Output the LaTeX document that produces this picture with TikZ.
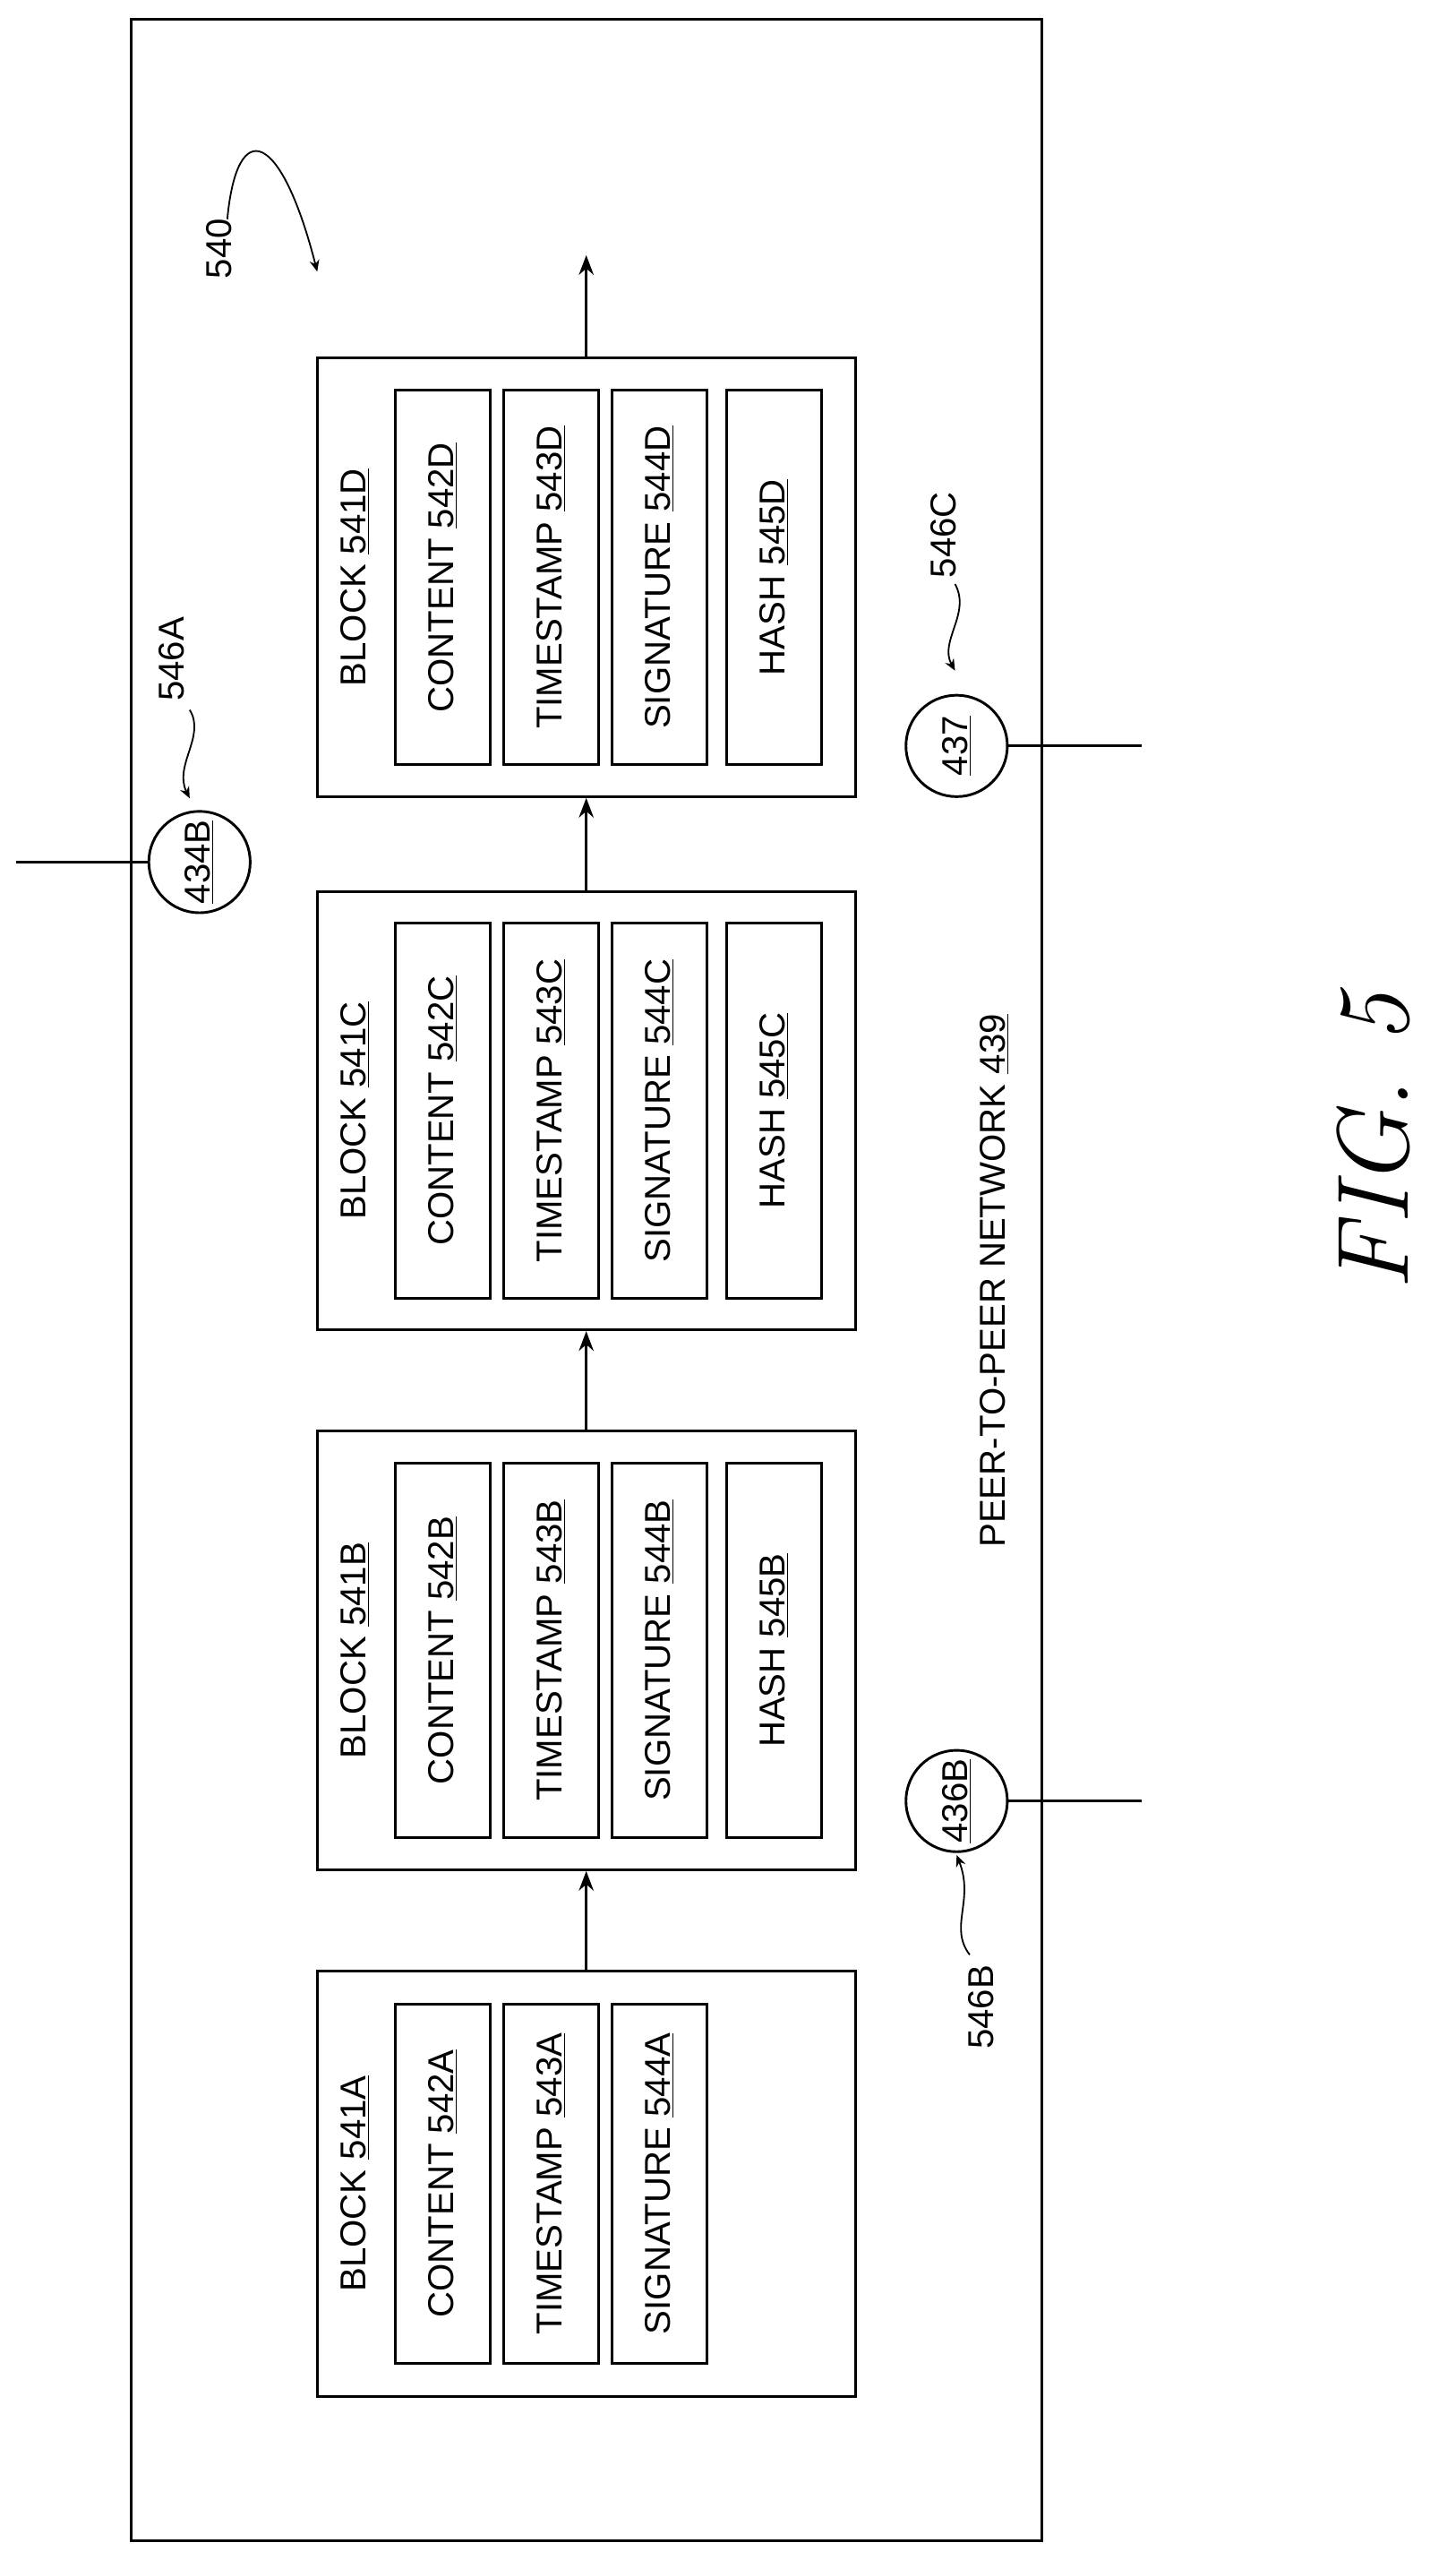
\documentclass[tikz,border=0pt]{standalone}
\usepackage{fontspec}
\setmainfont{Liberation Sans}
\newfontfamily\figfont{Latin Modern Roman}
\usetikzlibrary{arrows.meta}
\begin{document}
\begin{tikzpicture}[x=1pt,y=-1pt,
  lw/.style={line width=1.6pt},
  blk/.style={draw,lw,minimum width=329pt,minimum height=268pt,inner sep=0},
  inr/.style={draw,lw,rotate=90,minimum width=229pt,minimum height=58pt,inner sep=0,font=\fontsize{22}{24}\selectfont},
  lbl/.style={rotate=90,inner sep=0,font=\fontsize{22}{24}\selectfont},
  circ/.style={draw,lw,circle,minimum size=62pt,inner sep=0,font=\fontsize{22}{24}\selectfont},
  arr/.style={lw,-{Stealth[length=12pt,width=9pt]}},
  sq/.style={line width=1pt,-{Stealth[length=7pt,width=6pt]}}]
\useasboundingbox (0,0) rectangle (890,1565);
\node[draw,lw,minimum width=557pt,minimum height=1541pt,inner sep=0] (outer) at (358.5,782.5) {};
% blocks
\foreach \n/\yc in {D/353,C/679,B/1009} {
  \node[blk] (block\n) at (358.5,\yc) {};
  \node[lbl] (bl\n) at (217,\yc) {BLOCK \underline{541\n}};
  \node[inr] (con\n) at (271,\yc) {CONTENT \underline{542\n}};
  \node[inr] (tim\n) at (337,\yc) {TIMESTAMP \underline{543\n}};
  \node[inr] (sig\n) at (403.5,\yc) {SIGNATURE \underline{544\n}};
  \node[inr] (has\n) at (473.5,\yc) {HASH \underline{545\n}};
}
\node[blk,minimum height=260pt] (blockA) at (358.5,1335) {};
\node[lbl] (blA) at (217,1335) {BLOCK \underline{541A}};
\node[inr,minimum width=220pt] (conA) at (271,1335) {CONTENT \underline{542A}};
\node[inr,minimum width=220pt] (timA) at (337,1335) {TIMESTAMP \underline{543A}};
\node[inr,minimum width=220pt] (sigA) at (403.5,1335) {SIGNATURE \underline{544A}};
% arrows
\draw[arr] (blockA.north) -- (blockB.south);
\draw[arr] (blockB.north) -- (blockC.south);
\draw[arr] (blockC.north) -- (blockD.south);
\coordinate (out) at (358.5,156);
\draw[arr] (blockD.north) -- (out);
% peers
\node[circ] (p434) at (122,527) {\rotatebox{90}{\underline{434B}}};
\coordinate (e434) at (10,527);
\draw[lw] (p434.west) -- (e434);
\node[circ] (p437) at (585,456) {\rotatebox{90}{\underline{437}}};
\coordinate (e437) at (698,456);
\draw[lw] (p437.east) -- (e437);
\node[circ] (p436) at (585,1101) {\rotatebox{90}{\underline{436B}}};
\coordinate (e436) at (698,1101);
\draw[lw] (p436.east) -- (e436);
% labels
\node[lbl] (l540) at (134,152) {540};
\draw[sq] (139,134) .. controls (145,70) and (172,80) .. (194,166);
\node[lbl] (l546a) at (105,403) {546A};
\draw[sq] (116,434) .. controls (126,450) and (106,468) .. (116,488);
\node[lbl] (l546c) at (577,327) {546C};
\draw[sq] (584,357) .. controls (594,375) and (574,392) .. (584,410);
\node[lbl] (l546b) at (600,1227) {546B};
\draw[sq] (593,1195) .. controls (580,1178) and (596,1162) .. (585,1134);
\node[lbl] (net) at (608,783) {PEER-TO-PEER NETWORK \underline{439}};
\node[rotate=90,inner sep=0,font=\figfont\itshape\fontsize{62}{64}\selectfont] (fig) at (840,698) {FIG. 5};
\end{tikzpicture}
\end{document}
